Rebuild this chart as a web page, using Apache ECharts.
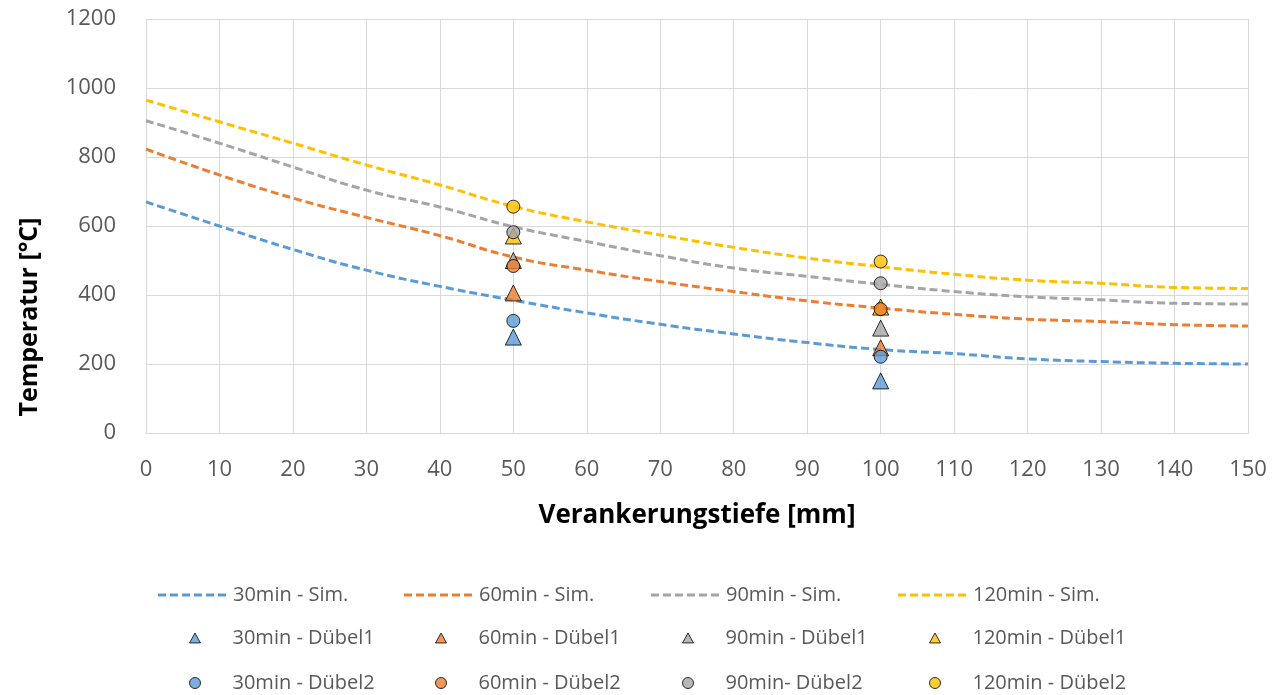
<!DOCTYPE html>
<html>
<head>
<meta charset="utf-8">
<script src="https://cdn.jsdelivr.net/npm/echarts@6/dist/echarts.min.js"></script>
<style>
  html, body { margin: 0; padding: 0; background: #fff; }
  #chart { width: 1287px; height: 695px; }
</style>
</head>
<body>
<div id="chart"></div>
<script>
// Verankerungstiefe [mm] der Simulationskurven
const depth = [0, 10, 20, 30, 40, 50, 60, 70, 80, 90, 100, 110, 120, 130, 140, 150];

// Simulation
const sim30 = [670, 600, 532, 472, 425, 385, 348, 315, 287, 262, 242, 230, 215, 207, 202, 200];
const sim60 = [823, 748, 681, 625, 572, 510, 472, 439, 410, 383, 362, 344, 330, 323, 314, 310];
const sim90 = [905, 840, 771, 704, 655, 598, 555, 514, 478, 454, 431, 410, 395, 386, 376, 374];
const sim120 = [965, 902, 840, 777, 719, 657, 612, 574, 538, 507, 482, 460, 443, 434, 422, 419];

// Messpunkte
const testDepth = [50, 100];
const d1_30 = [278, 151];
const d1_60 = [406, 247];
const d1_90 = [500, 304];
const d1_120 = [571, 365];
const d2_30 = [325, 221];
const d2_60 = [484, 359];
const d2_90 = [582, 434];
const d2_120 = [656, 497];

const names = [
  '30min - Sim.', '60min - Sim.', '90min - Sim.', '120min - Sim.',
  '30min - Dübel1', '60min - Dübel1', '90min - Dübel1', '120min - Dübel1',
  '30min - Dübel2', '60min - Dübel2', '90min- Dübel2', '120min - Dübel2'
];
const colors = ['#5B9BD5', '#ED7D31', '#A5A5A5', '#FFC000'];

const font = 'Open Sans';
const chart = echarts.init(document.getElementById('chart'));

const pair = (xs, ys) => xs.map((x, i) => [x, ys[i]]);

// Legendensymbole
let dashPath = 'path://';
for (let x = 0; x < 70; x += 12) dashPath += 'M' + x + ',0h8v3h-8z';
const triPath = 'path://M5,0L10,9L0,9Z';
const dotPath = 'path://M5,0A5,5,0,1,1,5,10A5,5,0,1,1,5,0Z';

const simLine = (name, ys, color) => ({
  name: name,
  type: 'line',
  data: pair(depth, ys),
  symbol: 'none',
  smooth: true,
  lineStyle: { color: color, width: 3, type: [8, 4] },
  itemStyle: { color: color },
  z: 2
});

const points = (name, ys, color, shape, size) => ({
  name: name,
  type: 'scatter',
  data: pair(testDepth, ys),
  symbol: shape,
  symbolSize: size,
  itemStyle: { color: color, borderColor: '#000', borderWidth: 1 },
  z: 3
});

// Legende: 3 Zeilen x 4 Spalten
const colX = [153, 399, 646, 893];
const rowY = [580, 623, 668];
const legends = names.map((n, i) => {
  const row = Math.floor(i / 4);
  const isLine = row === 0;
  return {
    data: [{ name: n, icon: isLine ? dashPath : (row === 1 ? triPath : dotPath) }],
    left: colX[i % 4] + (isLine ? 0 : 31),
    top: rowY[row],
    itemWidth: isLine ? 72 : 11,
    itemHeight: isLine ? 3 : 11,
    itemGap: 0,
    selectedMode: false,
    itemStyle: isLine ? { borderWidth: 0 } : { borderColor: '#000', borderWidth: 1 },
    textStyle: {
      fontFamily: font, fontSize: 20, color: '#595959',
      padding: isLine ? [0, 0, 0, 0] : [0, 0, 0, 27]
    }
  };
});

chart.setOption({
  animation: false,
  grid: { left: 146, right: 39, top: 19, bottom: 262, containLabel: false },
  legend: legends,
  xAxis: {
    type: 'value',
    min: 0,
    max: 150,
    interval: 10,
    name: 'Verankerungstiefe [mm]',
    nameLocation: 'middle',
    nameGap: 70,
    nameTextStyle: { fontFamily: font, fontSize: 26, fontWeight: 'bold', color: '#000' },
    axisLine: { show: true, lineStyle: { color: '#d9d9d9', width: 1 } },
    axisTick: { show: false },
    axisLabel: { fontFamily: font, fontSize: 22, color: '#595959', margin: 26 },
    splitLine: { show: true, lineStyle: { color: '#d9d9d9', width: 1 } }
  },
  yAxis: {
    type: 'value',
    min: 0,
    max: 1200,
    interval: 200,
    name: 'Temperatur [°C]',
    nameLocation: 'middle',
    nameGap: 104,
    nameRotate: 90,
    nameTextStyle: { fontFamily: font, fontSize: 25, fontWeight: 'bold', color: '#000', padding: [0, 182, 0, 0] },
    axisLine: { show: false },
    axisTick: { show: false },
    axisLabel: { fontFamily: font, fontSize: 22, color: '#595959', margin: 30, formatter: v => String(v) },
    splitLine: { show: true, lineStyle: { color: '#d9d9d9', width: 1 } }
  },
  series: [
    simLine(names[0], sim30, colors[0]),
    simLine(names[1], sim60, colors[1]),
    simLine(names[2], sim90, colors[2]),
    simLine(names[3], sim120, colors[3]),
    points(names[4], d1_30, colors[0], 'triangle', 16),
    points(names[5], d1_60, colors[1], 'triangle', 16),
    points(names[6], d1_90, colors[2], 'triangle', 16),
    points(names[7], d1_120, colors[3], 'triangle', 16),
    points(names[8], d2_30, colors[0], 'circle', 13),
    points(names[9], d2_60, colors[1], 'circle', 13),
    points(names[10], d2_90, colors[2], 'circle', 13),
    points(names[11], d2_120, colors[3], 'circle', 13)
  ]
});
</script>
</body>
</html>
